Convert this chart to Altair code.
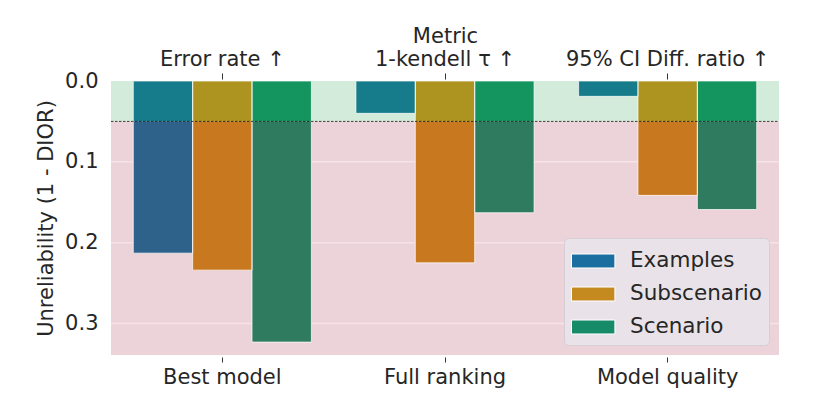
import altair as alt
import pandas as pd

categories = ["Best model", "Full ranking", "Model quality"]
metrics = ["Error rate ↑", "1-kendell τ ↑", "95% CI Diff. ratio ↑"]
series = ["Examples", "Subscenario", "Scenario"]
examples = [0.213, 0.040, 0.019]
subscenario = [0.234, 0.225, 0.1415]
scenario = [0.323, 0.163, 0.159]
threshold = 0.05
y_max = 0.339
y_ticks = [0.0, 0.1, 0.2, 0.3]

legend_colors = ["#1a6fa0", "#c4891f", "#178a68"]
top_colors = ["#167b8a", "#ad9320", "#14955f"]
bottom_colors = ["#2e628b", "#c8781e", "#2e7b5f"]
zone_colors = ["#d3ebdb", "#ecd3da"]

FONT = "DejaVu Sans"
TXT = "#262626"
FS = 21

values = {"Examples": examples, "Subscenario": subscenario, "Scenario": scenario}

bar_rows, seg_rows = [], []
for s in series:
    for c, v in zip(categories, values[s]):
        bar_rows.append({"category": c, "series": s, "base": 0.0, "value": v})
        seg_rows.append({"category": c, "series": s, "key": s + "_top", "y0": 0.0, "y1": min(v, threshold)})
        if v > threshold:
            seg_rows.append({"category": c, "series": s, "key": s + "_bot", "y0": threshold, "y1": v})
bars_df = pd.DataFrame(bar_rows)
seg_df = pd.DataFrame(seg_rows)
keys = [s + "_top" for s in series] + [s + "_bot" for s in series]
key_colors = top_colors + bottom_colors

zone_df = pd.DataFrame({"zone": ["ok", "bad"], "y0": [0.0, threshold], "y1": [threshold, y_max]})
grid_df = pd.DataFrame({"t": [v for v in y_ticks if v > 0]})
thr_df = pd.DataFrame({"t": [threshold]})
cat_df = pd.DataFrame({"category": categories})
series_df = pd.DataFrame({"series": series})

yscale = alt.Scale(domain=[0, y_max], reverse=True, nice=False, zero=False)
yaxis = alt.Axis(values=y_ticks, format=".1f", ticks=False, domain=False, grid=False,
                 labelFontSize=FS, titleFontSize=FS, labelPadding=13, titlePadding=8,
                 labelColor=TXT, titleColor=TXT, titleFontWeight="normal")
YTITLE = "Unreliability (1 - DIOR)"


def yenc(field):
    return alt.Y(f"{field}:Q", scale=yscale, axis=yaxis, title=YTITLE)


xscale = alt.Scale(paddingInner=0.2, paddingOuter=0.1)

label_expr = ""
for c, m in zip(categories[:-1], metrics[:-1]):
    label_expr += f"datum.label == '{c}' ? '{m}' : "
label_expr += f"'{metrics[-1]}'"

bottom_axis = alt.Axis(orient="bottom", domain=False, ticks=True, tickSize=5, tickColor="#333333",
                       tickWidth=1, offset=2, labelPadding=4, labelAngle=0, labelFontSize=FS,
                       labelColor=TXT, labelLimit=0, title=None, grid=False)
top_axis = alt.Axis(orient="top", domain=False, ticks=True, tickSize=6, tickColor="#333333",
                    tickWidth=1, offset=2, labelPadding=4, labelAngle=0, labelFontSize=FS,
                    labelColor=TXT, labelLimit=0, labelExpr=label_expr, title="Metric",
                    titleFontSize=FS, titleFontWeight="normal", titleColor=TXT, titlePadding=2,
                    grid=False)

background = alt.Chart(zone_df).mark_rect().encode(
    y=yenc("y0"), y2="y1",
    x=alt.value(0), x2=alt.value("width"),
    fill=alt.Fill("zone:N", scale=alt.Scale(domain=["ok", "bad"], range=zone_colors), legend=None),
)

grid = alt.Chart(grid_df).mark_rule(color="#f6e3e7", strokeWidth=1.5).encode(
    y=yenc("t"), x=alt.value(0), x2=alt.value("width"),
)

segments = alt.Chart(seg_df).mark_bar(strokeWidth=0).encode(
    x=alt.X("category:N", sort=categories, scale=xscale, axis=bottom_axis),
    xOffset=alt.XOffset("series:N", sort=series, scale=alt.Scale(paddingInner=0, paddingOuter=0)),
    y=yenc("y0"), y2="y1",
    color=alt.Color("key:N", scale=alt.Scale(domain=keys, range=key_colors), legend=None),
)

outlines = alt.Chart(bars_df).mark_bar(fillOpacity=0, stroke="#ffffff", strokeOpacity=0.7, strokeWidth=1).encode(
    x=alt.X("category:N", sort=categories, scale=xscale, axis=None),
    xOffset=alt.XOffset("series:N", sort=series, scale=alt.Scale(paddingInner=0, paddingOuter=0)),
    y=yenc("base"), y2="value",
)

thr = alt.Chart(thr_df).mark_rule(color="#111111", strokeDash=[2.5, 1.5], strokeWidth=0.8).encode(
    y=yenc("t"), x=alt.value(0), x2=alt.value("width"),
)

top = alt.Chart(cat_df).mark_point(opacity=0, size=0).encode(
    x=alt.X("category:N", sort=categories, scale=xscale, axis=top_axis),
)

legend_layer = alt.Chart(series_df).mark_rect(opacity=0).encode(
    x=alt.value(0), x2=alt.value(1), y=alt.value(0), y2=alt.value(1),
    color=alt.Color("series:N", sort=series, scale=alt.Scale(domain=series, range=legend_colors),
                    legend=alt.Legend(orient="bottom-right", offset=10, title=None,
                                      fillColor="#e9e3e9", strokeColor="#d5cfd5", cornerRadius=4,
                                      padding=7, symbolType="M-1,-0.45H1.8V0.45H-1Z", symbolSize=961,
                                      symbolOpacity=1, symbolStrokeColor="#ffffff", symbolStrokeWidth=1,
                                      labelFontSize=21.5, labelOffset=27, rowPadding=6, labelLimit=0,
                                      labelColor=TXT, labelFont=FONT)),
)

chart = alt.layer(background, grid, segments, outlines, thr, top, legend_layer).resolve_scale(
    color="independent", fill="independent"
).resolve_axis(x="independent").properties(
    width=668, height=274,
    autosize=alt.AutoSizeParams(type="none"),
    padding={"left": 103, "top": 73, "right": 44, "bottom": 51},
).configure(font=FONT).configure_view(stroke=None)

chart.save("out.html", embed_options={"renderer": "svg", "actions": False})
